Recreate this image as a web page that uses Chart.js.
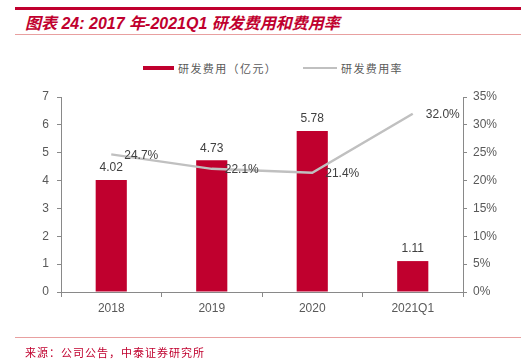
<!DOCTYPE html>
<html>
<head>
<meta charset="utf-8">
<script src="https://cdn.jsdelivr.net/npm/chart.js@4/dist/chart.umd.min.js"></script>
<style>
  html, body { margin: 0; padding: 0; background: #fff; }
  #wrap { position: relative; width: 525px; height: 364px; overflow: hidden; font-family: "Liberation Sans", Arial, sans-serif; }
  #chart { position: absolute; left: 0; top: 0; }
  .rule-top { position: absolute; left: 15px; width: 506px; top: 7px; height: 3px; background: #c0002e; }
  .rule-thin { position: absolute; left: 15px; width: 506px; height: 1px; background: #e8a0a0; }
  .title { position: absolute; left: 25px; top: 10px; font: italic bold 16px "Liberation Sans", "Noto Sans CJK SC", sans-serif; color: #c0002e; white-space: nowrap; }
  .source { position: absolute; left: 25px; top: 344px; font: 11px "Noto Sans CJK SC", sans-serif; letter-spacing: 1px; color: #c0002e; white-space: nowrap; }
  .legend { position: absolute; top: 60px; font: 11px "Noto Sans CJK SC", sans-serif; letter-spacing: 1.4px; color: #595959; white-space: nowrap; }
  .sw-bar { position: absolute; left: 143px; top: 66px; width: 31px; height: 4px; background: #c0002e; }
  .sw-line { position: absolute; left: 303px; top: 67px; width: 34px; height: 2px; background: #c0c0c0; }
</style>
</head>
<body>
<div id="wrap">
  <div class="rule-top"></div>
  <div class="title">图表 24: 2017 年-2021Q1 研发费用和费用率</div>
  <div class="rule-thin" style="top:34px"></div>
  <div class="sw-bar"></div>
  <div class="legend" style="left:178px">研发费用（亿元）</div>
  <div class="sw-line"></div>
  <div class="legend" style="left:341px">研发费用率</div>
  <canvas id="chart" width="525" height="364"></canvas>
  <div class="rule-thin" style="top:337px"></div>
  <div class="source">来源：公司公告，中泰证券研究所</div>
</div>
<script>
const categories = ['2018', '2019', '2020', '2021Q1'];
const rdExpense = [4.02, 4.73, 5.78, 1.11];
const rdRatio = [24.7, 22.1, 21.4, 32.0];

const axisColor = '#898989';
const tickColor = '#595959';

// draws the number labels: above each bar, right of each line point
const valueLabels = {
    id: 'valueLabels',
    afterDatasetsDraw(chart) {
        const ctx = chart.ctx;
        ctx.save();
        ctx.font = '12px "Liberation Sans", Arial, sans-serif';
        ctx.fillStyle = '#404040';
        chart.getDatasetMeta(0).data.forEach(function (bar, i) {
            ctx.textAlign = 'center';
            ctx.textBaseline = 'bottom';
            ctx.fillText(rdExpense[i].toFixed(2), bar.x, bar.y - 6);
        });
        chart.getDatasetMeta(1).data.forEach(function (pt, i) {
            ctx.textAlign = 'left';
            ctx.textBaseline = 'middle';
            ctx.fillText(rdRatio[i].toFixed(1) + '%', pt.x + 13, pt.y + 1);
        });
        ctx.restore();
    }
};

new Chart(document.getElementById('chart'), {
    type: 'bar',
    data: {
        labels: categories,
        datasets: [
            {
                type: 'bar',
                label: '研发费用（亿元）',
                data: rdExpense,
                backgroundColor: '#c0002e',
                yAxisID: 'y',
                barPercentage: 0.31,
                categoryPercentage: 1.0,
                order: 2
            },
            {
                type: 'line',
                label: '研发费用率',
                data: rdRatio,
                borderColor: '#c0c0c0',
                borderWidth: 2.5,
                pointRadius: 0,
                tension: 0,
                yAxisID: 'y1',
                order: 1
            }
        ]
    },
    options: {
        responsive: false,
        animation: false,
        layout: { padding: { top: 97, bottom: 0, left: 0, right: 0 } },
        plugins: { legend: { display: false }, tooltip: { enabled: false } },
        scales: {
            x: {
                grid: { drawOnChartArea: false, tickLength: 5, color: axisColor },
                border: { color: axisColor, width: 1 },
                ticks: { color: tickColor, font: { size: 12, family: '"Liberation Sans", Arial' }, padding: 4 },
                afterFit: function (s) { s.height = 72; }
            },
            y: {
                position: 'left',
                min: 0, max: 7,
                ticks: { stepSize: 1, color: tickColor, font: { size: 12, family: '"Liberation Sans", Arial' }, padding: 8 },
                grid: { drawOnChartArea: false, tickLength: 4, color: axisColor },
                border: { color: axisColor, width: 1 },
                afterFit: function (s) { s.width = 61; }
            },
            y1: {
                position: 'right',
                min: 0, max: 35,
                ticks: {
                    stepSize: 5, color: tickColor, font: { size: 12, family: '"Liberation Sans", Arial' }, padding: 6,
                    callback: function (v) { return v + '%'; }
                },
                grid: { drawOnChartArea: false, tickLength: 4, color: axisColor },
                border: { color: axisColor, width: 1 },
                afterFit: function (s) { s.width = 62; }
            }
        }
    },
    plugins: [valueLabels]
});
</script>
</body>
</html>
